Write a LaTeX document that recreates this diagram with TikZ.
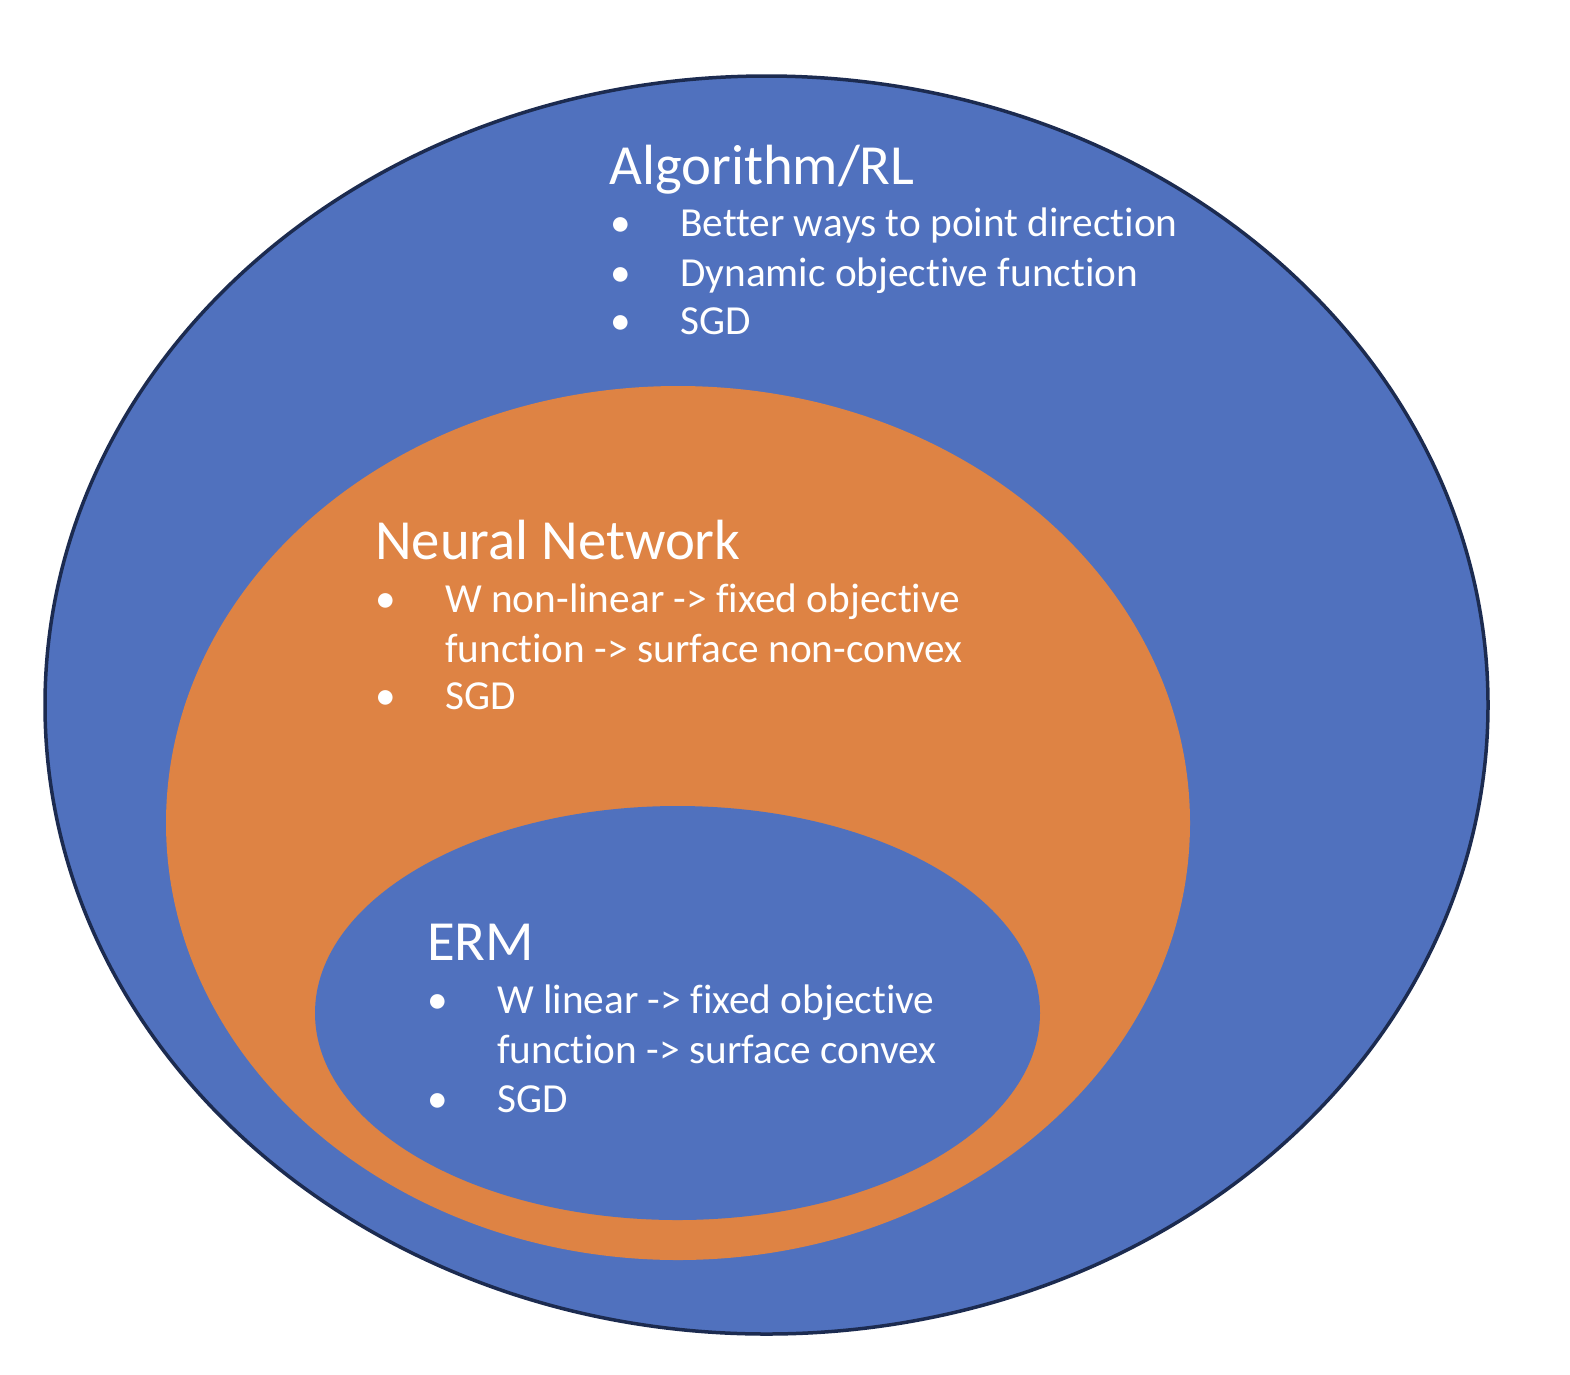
\documentclass[tikz,border=0pt]{standalone}
\usepackage{fontspec}
\setmainfont{Carlito}[Ligatures=CommonOff]
\definecolor{blueF}{HTML}{5071BE}
\definecolor{orangeF}{HTML}{DE8344}
\definecolor{navyL}{HTML}{1C2B50}
\tikzset{
  ttl/.style={anchor=base west, inner sep=0pt, text=white, font=\fontsize{56.7}{68}\selectfont},
  txt/.style={anchor=base west, inner sep=0pt, text=white, font=\fontsize{41.3}{50}\selectfont},
}
\begin{document}
\begin{tikzpicture}[x=1pt,y=-1pt]
\useasboundingbox (0,0) rectangle (1570,1374);
% ellipses
\draw[fill=blueF, draw=navyL, line width=3.5pt] (766.5,705) ellipse [x radius=721.5pt, y radius=629pt];
\fill[orangeF] (678,823) ellipse [x radius=512pt, y radius=437pt];
\fill[blueF] (677.5,1013) ellipse [x radius=362.5pt, y radius=207pt];
% Algorithm/RL
\node[ttl] (t1) at (609,184) {Algorithm/RL};
\node[txt] (b11) at (610,236) {•};
\node[txt] (l11) at (680,236) {Better ways to point direction};
\node[txt] (b12) at (610,286) {•};
\node[txt] (l12) at (680,286) {Dynamic objective function};
\node[txt] (b13) at (610,334) {•};
\node[txt] (l13) at (680,334) {SGD};
% Neural Network
\node[ttl] (t2) at (375,559) {Neural Network};
\node[txt] (b21) at (375,612) {•};
\node[txt] (l21) at (445,612) {W non-linear -> fixed objective};
\node[txt] (l22) at (445,662) {function -> surface non-convex};
\node[txt] (b23) at (375,709) {•};
\node[txt] (l23) at (445,709) {SGD};
% ERM
\node[ttl] (t3) at (427,960) {ERM};
\node[txt] (b31) at (427,1013) {•};
\node[txt] (l31) at (497,1013) {W linear -> fixed objective};
\node[txt] (l32) at (497,1063) {function -> surface convex};
\node[txt] (b33) at (427,1112) {•};
\node[txt] (l33) at (497,1112) {SGD};
\end{tikzpicture}
\end{document}
